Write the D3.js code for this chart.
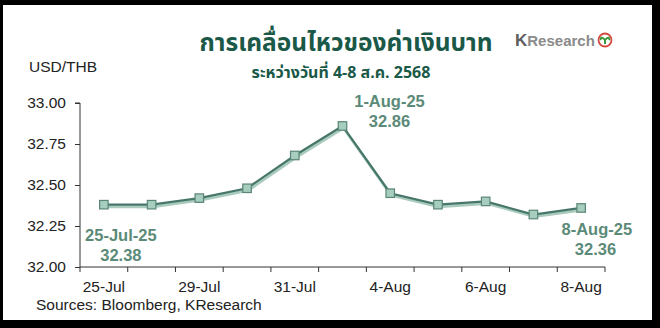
<!DOCTYPE html>
<html>
<head>
<meta charset="utf-8">
<script src="https://cdn.jsdelivr.net/npm/d3@7"></script>
<style>
body { margin: 0; background: #000; }
svg { display: block; }
</style>
</head>
<body>
<div id="chart"></div>
<script>
var dates = ["25-Jul", "28-Jul", "29-Jul", "30-Jul", "31-Jul", "1-Aug", "4-Aug", "5-Aug", "6-Aug", "7-Aug", "8-Aug"];
var rates = [32.38, 32.38, 32.42, 32.48, 32.68, 32.86, 32.45, 32.38, 32.40, 32.32, 32.36];
var tickLabels = ["25-Jul", "29-Jul", "31-Jul", "4-Aug", "6-Aug", "8-Aug"];
var yTicks = [32.00, 32.25, 32.50, 32.75, 33.00];

var W = 660, H = 328;
var svg = d3.select("#chart").append("svg")
  .attr("width", W).attr("height", H);

// frame
svg.append("rect").attr("x", 0).attr("y", 0).attr("width", W).attr("height", H).attr("fill", "#000");
svg.append("rect").attr("x", 3).attr("y", 5).attr("width", 649).attr("height", 315).attr("fill", "#fff");

var x = d3.scaleBand().domain(dates).range([80, 605]);
var y = d3.scaleLinear().domain([32, 33]).range([267, 103]);

var font = "'Liberation Sans', Arial, sans-serif";
var thai = "'Noto Sans Thai', 'Noto Sans', 'DejaVu Sans', sans-serif";

// title
svg.append("text").attr("x", 346).attr("y", 51).attr("text-anchor", "middle")
  .attr("font-family", thai).attr("font-weight", "bold").attr("font-size", 24.5)
  .attr("fill", "#1a5848").text("การเคลื่อนไหวของค่าเงินบาท");
svg.append("text").attr("x", 341).attr("y", 78).attr("text-anchor", "middle")
  .attr("font-family", thai).attr("font-weight", "bold").attr("font-size", 16)
  .attr("fill", "#1a5848").text("ระหว่างวันที่ 4-8 ส.ค. 2568");

// logo
var logo = svg.append("text").attr("x", 515).attr("y", 46)
  .attr("font-family", font).attr("font-weight", "bold").attr("font-size", 16);
logo.append("tspan").attr("fill", "#5e5e5e").attr("font-size", 17).text("K");
logo.append("tspan").attr("fill", "#8a8a8a").attr("font-size", 15).text("Research");
svg.append("circle").attr("cx", 605).attr("cy", 40).attr("r", 6.5)
  .attr("fill", "#fff").attr("stroke", "#d4483f").attr("stroke-width", 1.8);
svg.append("path").attr("d", "M605,44 L605,39 M605,40 C602,36 600,38 601,40 M605,40 C608,36 610,38 609,40")
  .attr("fill", "none").attr("stroke", "#3d9a3a").attr("stroke-width", 2);

svg.append("text").attr("x", 29).attr("y", 72)
  .attr("font-family", font).attr("font-size", 15.5).attr("fill", "#222").text("USD/THB");

// y axis
var yAxis = svg.append("g").attr("transform", "translate(80,0)")
  .call(d3.axisLeft(y).tickValues(yTicks).tickFormat(d3.format(".2f")).tickSize(5).tickPadding(9));
yAxis.select(".domain").attr("stroke", "#333").attr("d", "M-5," + y(33) + "H0V" + y(32));
yAxis.selectAll(".tick line").attr("stroke", "#333");
yAxis.selectAll("text").attr("font-family", font).attr("font-size", 15.5).attr("fill", "#222");

// x axis: ticks at category boundaries
var xg = svg.append("g").attr("transform", "translate(0," + y(32) + ")");
xg.append("line").attr("x1", 80).attr("x2", 605).attr("stroke", "#333");
var bounds = dates.map(function(d) { return x(d); }).concat([x.range()[1]]);
xg.selectAll(".tk").data(bounds).enter().append("line")
  .attr("x1", function(d) { return d; }).attr("x2", function(d) { return d; })
  .attr("y1", 0).attr("y2", 5).attr("stroke", "#333");
xg.selectAll(".lbl").data(tickLabels).enter().append("text")
  .attr("x", function(d) { return x(d) + x.bandwidth() / 2; })
  .attr("y", 25).attr("text-anchor", "middle")
  .attr("font-family", font).attr("font-size", 15.5).attr("fill", "#222")
  .text(function(d) { return d; });

svg.append("text").attr("x", 36).attr("y", 310)
  .attr("font-family", font).attr("font-size", 15.5).attr("fill", "#222")
  .text("Sources: Bloomberg, KResearch");

// line
var pts = dates.map(function(d, i) { return [x(d) + x.bandwidth() / 2, y(rates[i])]; });
var line = d3.line();
svg.append("path").attr("d", line(pts.map(function(p) { return [p[0] + 1, p[1] + 2]; })))
  .attr("fill", "none").attr("stroke", "#a9cbbd").attr("stroke-width", 3);
svg.append("path").attr("d", line(pts))
  .attr("fill", "none").attr("stroke", "#47766a").attr("stroke-width", 2.2);

var s = 8.5;
svg.selectAll(".mk").data(pts).enter().append("rect")
  .attr("x", function(p) { return p[0] - s / 2; })
  .attr("y", function(p) { return p[1] - s / 2; })
  .attr("width", s).attr("height", s)
  .attr("fill", "#a6cdbd").attr("stroke", "#5b8576").attr("stroke-width", 1.2);

// annotations
var annColor = "#5b8a78";
function ann(i, dx, dy, anchor) {
  var px = x(dates[i]) + x.bandwidth() / 2, py = y(rates[i]);
  var parts = dates[i].split("-");
  var label = parts[0] + "-" + parts[1] + "-25";
  var g = svg.append("g").attr("font-family", font).attr("font-weight", "bold")
    .attr("font-size", 16.5).attr("fill", annColor).attr("text-anchor", anchor);
  g.append("text").attr("x", px + dx[0]).attr("y", py + dy).text(label);
  g.append("text").attr("x", px + dx[1]).attr("y", py + dy + 20).text(d3.format(".2f")(rates[i]));
}
ann(0, [17, 17], 36, "middle");
ann(5, [47, 47], -19, "middle");
ann(10, [51, 35], 27, "end");
</script>
</body>
</html>
